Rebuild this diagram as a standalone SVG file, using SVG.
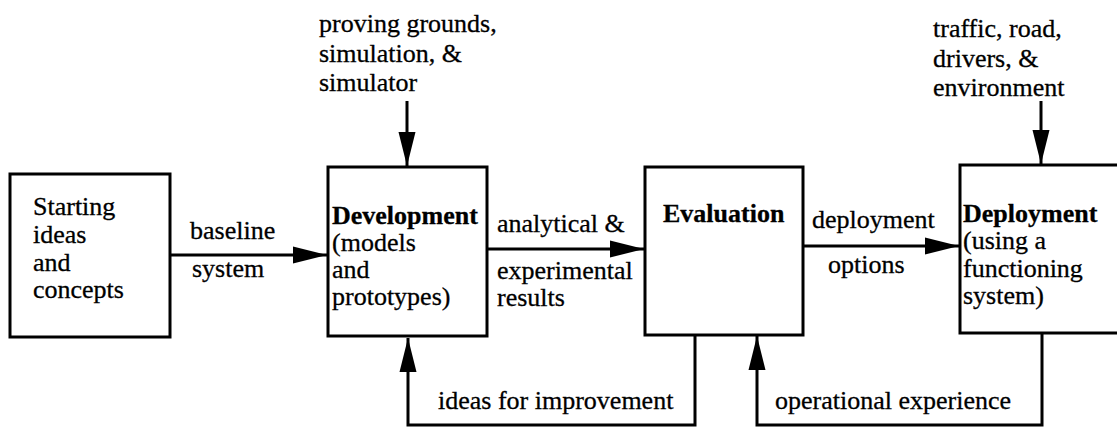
<svg xmlns="http://www.w3.org/2000/svg" width="1117" height="428" viewBox="0 0 1117 428">
<style>
.box{fill:#fff;stroke:#000;stroke-width:3}
.ln{fill:none;stroke:#000;stroke-width:3}
.t{font-family:'Liberation Serif','DejaVu Serif',serif;font-size:26px;fill:#000;stroke:#000;stroke-width:0.3}
.b{font-weight:bold}
</style>
<defs>
<marker id="ah" markerUnits="userSpaceOnUse" markerWidth="35" markerHeight="18" refX="34" refY="9" orient="auto">
<path d="M0,0.5 L34,9 L0,17.5 Z" fill="#000"/>
</marker>
</defs>
<rect width="1117" height="428" fill="#fff"/>
<g id="connectors">
<line class="ln" x1="170" y1="255" x2="327" y2="255" marker-end="url(#ah)"/>
<line class="ln" x1="487" y1="249" x2="644" y2="249" marker-end="url(#ah)"/>
<line class="ln" x1="803" y1="246" x2="959" y2="246" marker-end="url(#ah)"/>
<line class="ln" x1="407" y1="101" x2="407" y2="166" marker-end="url(#ah)"/>
<line class="ln" x1="1041" y1="101" x2="1041" y2="164" marker-end="url(#ah)"/>
<polyline class="ln" points="695,335 695,425 408,425 408,338" marker-end="url(#ah)"/>
<polyline class="ln" points="1042,333 1042,425 757,425 757,336" marker-end="url(#ah)"/>
</g>
<g id="start" class="t">
<rect class="box" x="10" y="174" width="160" height="163"/>
<text x="33" y="215">Starting</text>
<text x="33" y="243">ideas</text>
<text x="33" y="271">and</text>
<text x="33" y="298">concepts</text>
</g>
<g id="development" class="t">
<rect class="box" x="328" y="167" width="159" height="169"/>
<text class="b" x="332" y="224">Development</text>
<text x="332" y="251">(models</text>
<text x="332" y="278">and</text>
<text x="332" y="305">prototypes)</text>
</g>
<g id="evaluation" class="t">
<rect class="box" x="645" y="167" width="158" height="168"/>
<text class="b" x="663" y="222">Evaluation</text>
</g>
<g id="deployment" class="t">
<rect class="box" x="960" y="165" width="170" height="168"/>
<text class="b" x="963" y="222">Deployment</text>
<text x="963" y="249">(using a</text>
<text x="963" y="277">functioning</text>
<text x="963" y="304">system)</text>
</g>
<g id="labels" class="t">
<text x="190" y="239">baseline</text>
<text x="192" y="277">system</text>
<text x="497" y="232">analytical &amp;</text>
<text x="497" y="279">experimental</text>
<text x="497" y="306">results</text>
<text x="812" y="228">deployment</text>
<text x="828" y="273">options</text>
<text x="319" y="32">proving grounds,</text>
<text x="319" y="62">simulation, &amp;</text>
<text x="319" y="91">simulator</text>
<text x="933" y="37">traffic, road,</text>
<text x="933" y="67">drivers, &amp;</text>
<text x="933" y="96">environment</text>
<text x="438" y="409">ideas for improvement</text>
<text x="775" y="409">operational experience</text>
</g>
</svg>
